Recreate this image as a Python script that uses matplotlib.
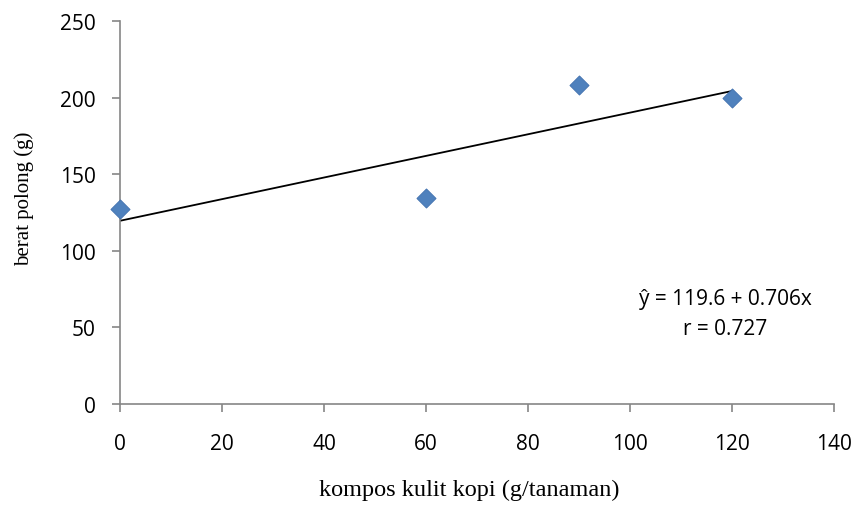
import matplotlib
matplotlib.use('Agg')
import matplotlib.pyplot as plt
import numpy as np

# data
dosis = [0, 60, 90, 120]
berat = [127, 134.5, 208.5, 199.5]
a, b = 119.6, 0.706
r = 0.727
xticks = [0, 20, 40, 60, 80, 100, 120, 140]
yticks = [0, 50, 100, 150, 200, 250]

fig = plt.figure(figsize=(8.58, 5.06), dpi=100)
ax = fig.add_axes([0.1399, 0.1996, 0.8322, 0.7569])

# regression line only over the data range
xl = np.array([min(dosis), max(dosis)])
ax.plot(xl, a + b * xl, color='black', lw=1.3, zorder=2)
ax.scatter(dosis, berat, marker='D', s=95, color='#4f81bd',
           edgecolors='#3f6fae', linewidths=0.6, zorder=3, clip_on=False)

ax.set_xlim(0, 140)
ax.set_ylim(0, 250)
ax.set_xticks(xticks)
ax.set_yticks(yticks)
for s in ['top', 'right']:
    ax.spines[s].set_visible(False)
for s in ['left', 'bottom']:
    ax.spines[s].set_color('#868686')
    ax.spines[s].set_linewidth(1.2)
ax.tick_params(colors='#868686', length=5.5, width=1.2, direction='out')
ax.tick_params(labelcolor='black', labelsize=15)
ax.tick_params(axis='y', pad=12)
ax.tick_params(axis='x', pad=15.5)
for lab in ax.get_xticklabels() + ax.get_yticklabels():
    lab.set_family('Open Sans')

ax.set_xlabel('kompos kulit kopi (g/tanaman)', family='Liberation Serif',
              fontsize=17.5)
ax.xaxis.set_label_coords(0.4895, -0.1958)
ax.set_ylabel('berat polong (g)', family='Liberation Serif', fontsize=15)
ax.yaxis.set_label_coords(-0.121, 0.539)

ax.text(0.8473, 0.2611, 'ŷ = %.1f + %.3fx' % (a, b), transform=ax.transAxes,
        ha='center', va='baseline', fontsize=15, family='Open Sans')
ax.text(0.8473, 0.1828, 'r = %.3f' % r, transform=ax.transAxes,
        ha='center', va='baseline', fontsize=15, family='Open Sans')

fig.savefig('out.png', dpi=100)
